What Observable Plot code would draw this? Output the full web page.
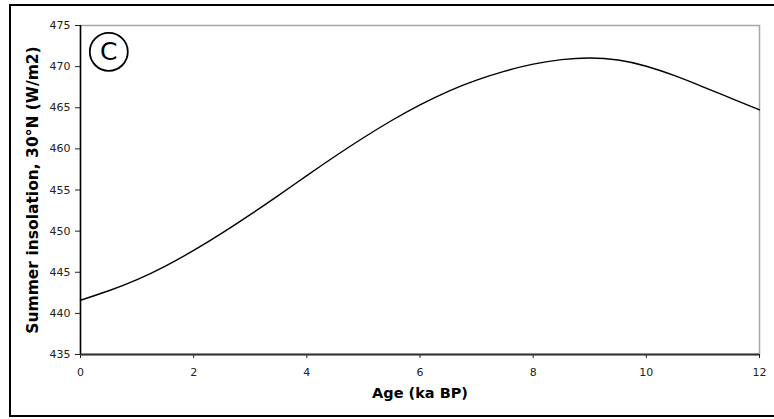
<!DOCTYPE html>
<html><head><meta charset="utf-8">
<script src="https://cdn.jsdelivr.net/npm/d3@7"></script>
<script src="https://cdn.jsdelivr.net/npm/@observablehq/plot@0.6"></script>
<style>
html,body{margin:0;padding:0;background:#fff;overflow:hidden;}
#wrap{position:relative;width:774px;height:419px;}
#border{position:absolute;left:9px;top:4px;width:800px;height:413px;border:2px solid #000;box-sizing:border-box;pointer-events:none;}
</style></head><body><div id="wrap"><div id="chart"></div><div id="border"></div></div>
<script>
// Age (ka BP)
const ages = [0, 0.5, 1, 1.5, 2, 2.5, 3, 3.5, 4, 4.5, 5, 5.5, 6, 6.5, 7, 7.5, 8, 8.5, 9, 9.5, 10, 10.5, 11, 11.5, 12];
// Summer insolation, 30°N (W/m2)
const insolation = [441.6, 442.75, 444.1, 445.75, 447.65, 449.75, 452.0, 454.35, 456.75, 459.1, 461.35, 463.45, 465.35, 467.0, 468.35, 469.45, 470.3, 470.85, 471.05, 470.8, 470.05, 468.9, 467.55, 466.15, 464.75];
const xTicks = [0, 2, 4, 6, 8, 10, 12];
const yTicks = [435, 440, 445, 450, 455, 460, 465, 470, 475];
const panelLabel = ["C"];
const panelAge = [0.5];
const panelValue = [471.8];
const xLabel = "Age (ka BP)";
const yLabel = "Summer insolation, 30°N (W/m2)";

const data = ages.map((a, i) => ({age: a, value: insolation[i]}));
const panel = panelLabel.map((t, i) => ({text: t, age: panelAge[i], value: panelValue[i]}));

const chart = Plot.plot({
  width: 774, height: 419,
  marginLeft: 80, marginRight: 15, marginTop: 25, marginBottom: 65,
  style: {fontFamily: "DejaVu Sans", fontSize: "11px", color: "#222", background: "transparent"},
  x: {domain: [0, 12], ticks: xTicks, label: null},
  y: {domain: [435, 475], ticks: yTicks, label: null},
  marks: [
    Plot.frame({stroke: "#a6a6a6", strokeWidth: 1.5}),
    Plot.axisX({ticks: xTicks, tickSize: 4, tickPadding: 10, label: null, fontSize: 11}),
    Plot.axisY({ticks: yTicks, tickSize: 5, tickPadding: 5, label: null, fontSize: 11}),
    Plot.ruleX([0], {stroke: "#000", strokeWidth: 1.5}),
    Plot.ruleY([435], {stroke: "#333", strokeWidth: 2}),
    Plot.line(data, {x: "age", y: "value", curve: "natural", stroke: "#000", strokeWidth: 1.4}),
    Plot.dot(panel, {x: "age", y: "value", r: 19, stroke: "#000", strokeWidth: 1.8}),
    Plot.text(panel, {x: "age", y: "value", text: "text", fontSize: 25, fill: "#000"}),
    Plot.text([xLabel], {text: d => d, frameAnchor: "bottom", dy: 39, lineAnchor: "middle", fontWeight: "bold", fontSize: 14.5, fill: "#000"}),
    Plot.text([yLabel], {text: d => d, frameAnchor: "left", dx: -47, rotate: -90, textAnchor: "middle", lineAnchor: "middle", fontWeight: "bold", fontSize: 15.5, fill: "#000"})
  ]
});
document.getElementById("chart").appendChild(chart);
</script>
</body></html>
